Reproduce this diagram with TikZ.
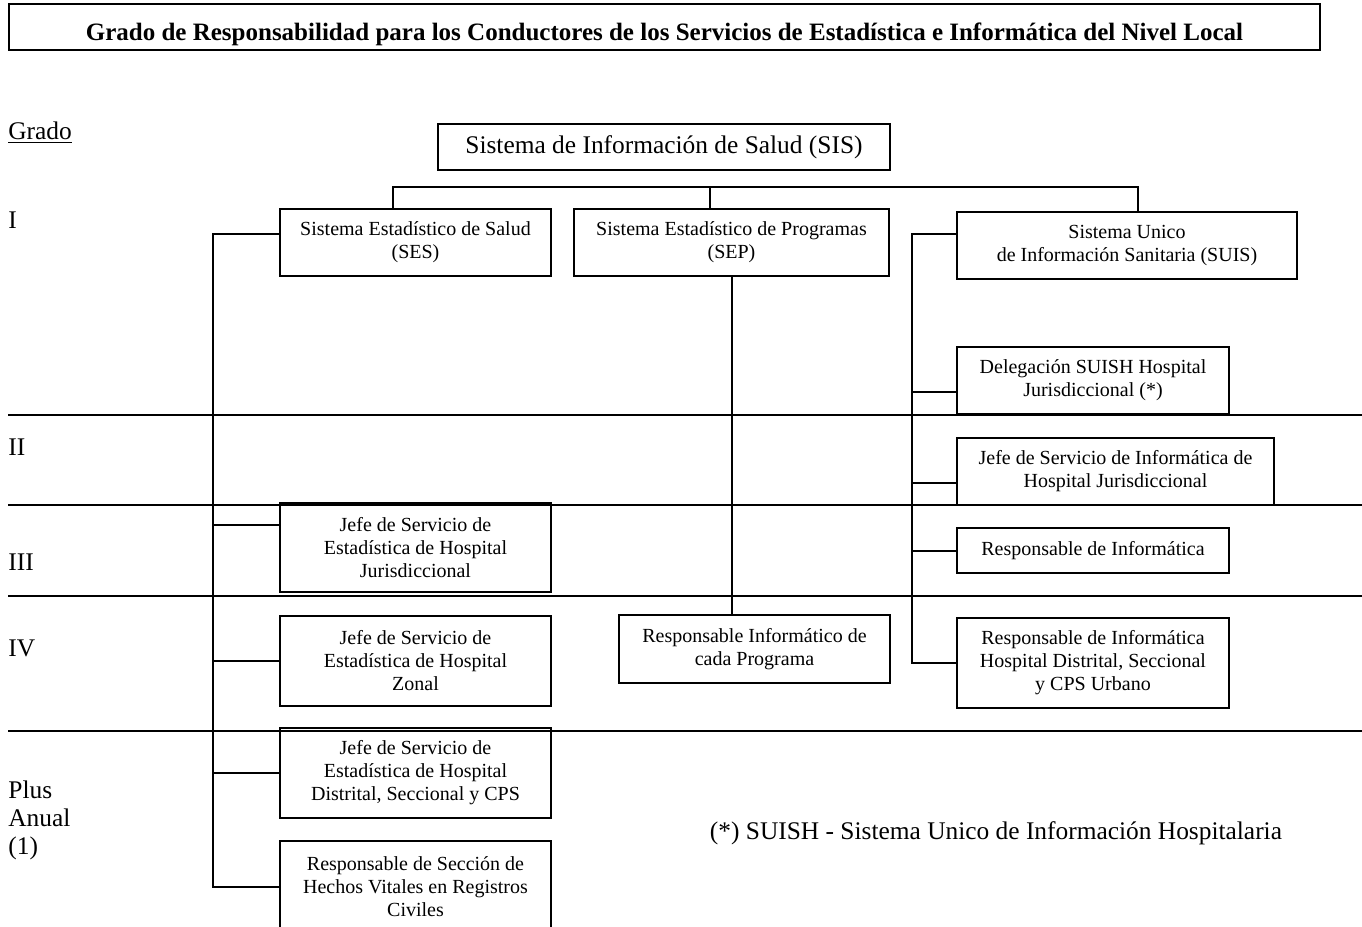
\documentclass[tikz,border=0pt]{standalone}
\usepackage{fontspec}
\setmainfont{Liberation Serif}
\usetikzlibrary{calc}

\begin{document}
\begin{tikzpicture}[x=0.5pt, y=-0.5pt,
  unit/.style={draw, line width=1pt, align=center, inner sep=2pt,
               font=\fontsize{10}{11.5}\selectfont},
  grade/.style={anchor=west, inner sep=0pt, align=left,
                font=\fontsize{12.7}{14}\selectfont},
  link/.style={line width=1pt},
  level/.style={line width=1pt},
]
\useasboundingbox (0,0) rectangle (1362,927);
\clip (0,0) rectangle (1362,927);

% Levels
\foreach \y in {415, 505, 596, 731}
  \draw[level] (8,\y) -- (1362,\y);

\node[grade] (grado) at (8,133) {\underline{Grado}};
\node[grade] (g1) at (8,220) {I};
\node[grade] (g2) at (8,447) {II};
\node[grade] (g3) at (8,562) {III};
\node[grade] (g4) at (8,648) {IV};
\node[grade] (gplus) at (8,820) {Plus\\Anual\\(1)};

% Title
\node[unit, minimum width=655.5pt, minimum height=23pt, text height=13pt, text depth=0pt,
      font=\fontsize{12.5}{14}\selectfont\bfseries] (title) at (664.5,27)
{Grado de Responsabilidad para los Conductores de los Servicios de Estadística e Informática del Nivel Local};

\node[unit, minimum width=226pt, minimum height=23pt,
      font=\fontsize{12.7}{14}\selectfont] (sis) at (664,147)
{Sistema de Información de Salud (SIS)};

\node[unit, minimum width=135.5pt, minimum height=33.5pt] (ses) at (415.5,242.5)
{Sistema Estadístico de Salud\\(SES)};
\node[unit, minimum width=157.5pt, minimum height=33.5pt] (sep) at (731.5,242.5)
{Sistema Estadístico de Programas\\(SEP)};
\node[unit, minimum width=170pt, minimum height=33.5pt] (suis) at (1127,245.5)
{Sistema Unico\\de Información Sanitaria (SUIS)};

% SUIS column
\node[unit, minimum width=136pt, minimum height=33.5pt] (deleg) at (1093,380.5)
{Delegación SUISH Hospital\\Jurisdiccional (*)};
\node[unit, minimum width=158.5pt, minimum height=33.5pt] (jsinf) at (1115.5,471.5)
{Jefe de Servicio de Informática de\\Hospital Jurisdiccional};
\node[unit, minimum width=136pt, minimum height=22.5pt] (rinf) at (1093,550.5)
{Responsable de Informática};
\node[unit, minimum width=136pt, minimum height=45pt] (rinfhd) at (1093,663)
{Responsable de Informática\\Hospital Distrital, Seccional\\y CPS Urbano};

% SES column
\node[unit, minimum width=135.5pt, minimum height=44.5pt] (jsjur) at (415.5,547.5)
{Jefe de Servicio de\\Estadística de Hospital\\Jurisdiccional};
\node[unit, minimum width=135.5pt, minimum height=45pt] (jszon) at (415.5,661)
{Jefe de Servicio de\\Estadística de Hospital\\Zonal};
\node[unit, minimum width=135.5pt, minimum height=45pt] (jsdist) at (415.5,773)
{Jefe de Servicio de\\Estadística de Hospital\\Distrital, Seccional y CPS};
\node[unit, minimum width=135.5pt, minimum height=46pt] (rsec) at (415.5,887)
{Responsable de Sección de\\Hechos Vitales en Registros\\Civiles};

% SEP column
\node[unit, minimum width=135.5pt, minimum height=34pt] (rprog) at (754.5,649)
{Responsable Informático de\\cada Programa};

% Connectors
\coordinate (t1) at (393,187);
\coordinate (t2) at (710,187);
\coordinate (t3) at (1138,187);
\draw[link] (t1 |- ses.north) -- (t1) -- (t3) -- (t3 |- suis.north);
\draw[link] (t2) -- (t2 |- sep.north);
\draw[link] (sep.south) -- (sep.south |- rprog.north);

\coordinate (lb) at (213,0);
\draw[link] ($(ses.north west)!0.37!(ses.south west)$) -| (lb |- rsec.west)
  -- (rsec.west);
\draw[link] ($(jsjur.north west)!0.25!(jsjur.south west)$) -- +(-67,0);
\draw[link] (jszon.west) -- (jszon.west -| lb);
\draw[link] (jsdist.west) -- (jsdist.west -| lb);

\coordinate (rb) at (912,0);
\draw[link] ($(suis.north west)!0.33!(suis.south west)$) -| (rb |- rinfhd.west)
  -- (rinfhd.west);
\draw[link] ($(deleg.north west)!0.67!(deleg.south west)$) -- +(-45,0);
\draw[link] ($(jsinf.north west)!0.66!(jsinf.south west)$) -- +(-45,0);
\draw[link] (rinf.west) -- (rinf.west -| rb);

% Note
\node[font=\fontsize{12.7}{14}\selectfont, inner sep=0pt] (note) at (996,833)
{(*) SUISH - Sistema Unico de Información Hospitalaria};
\end{tikzpicture}
\end{document}
